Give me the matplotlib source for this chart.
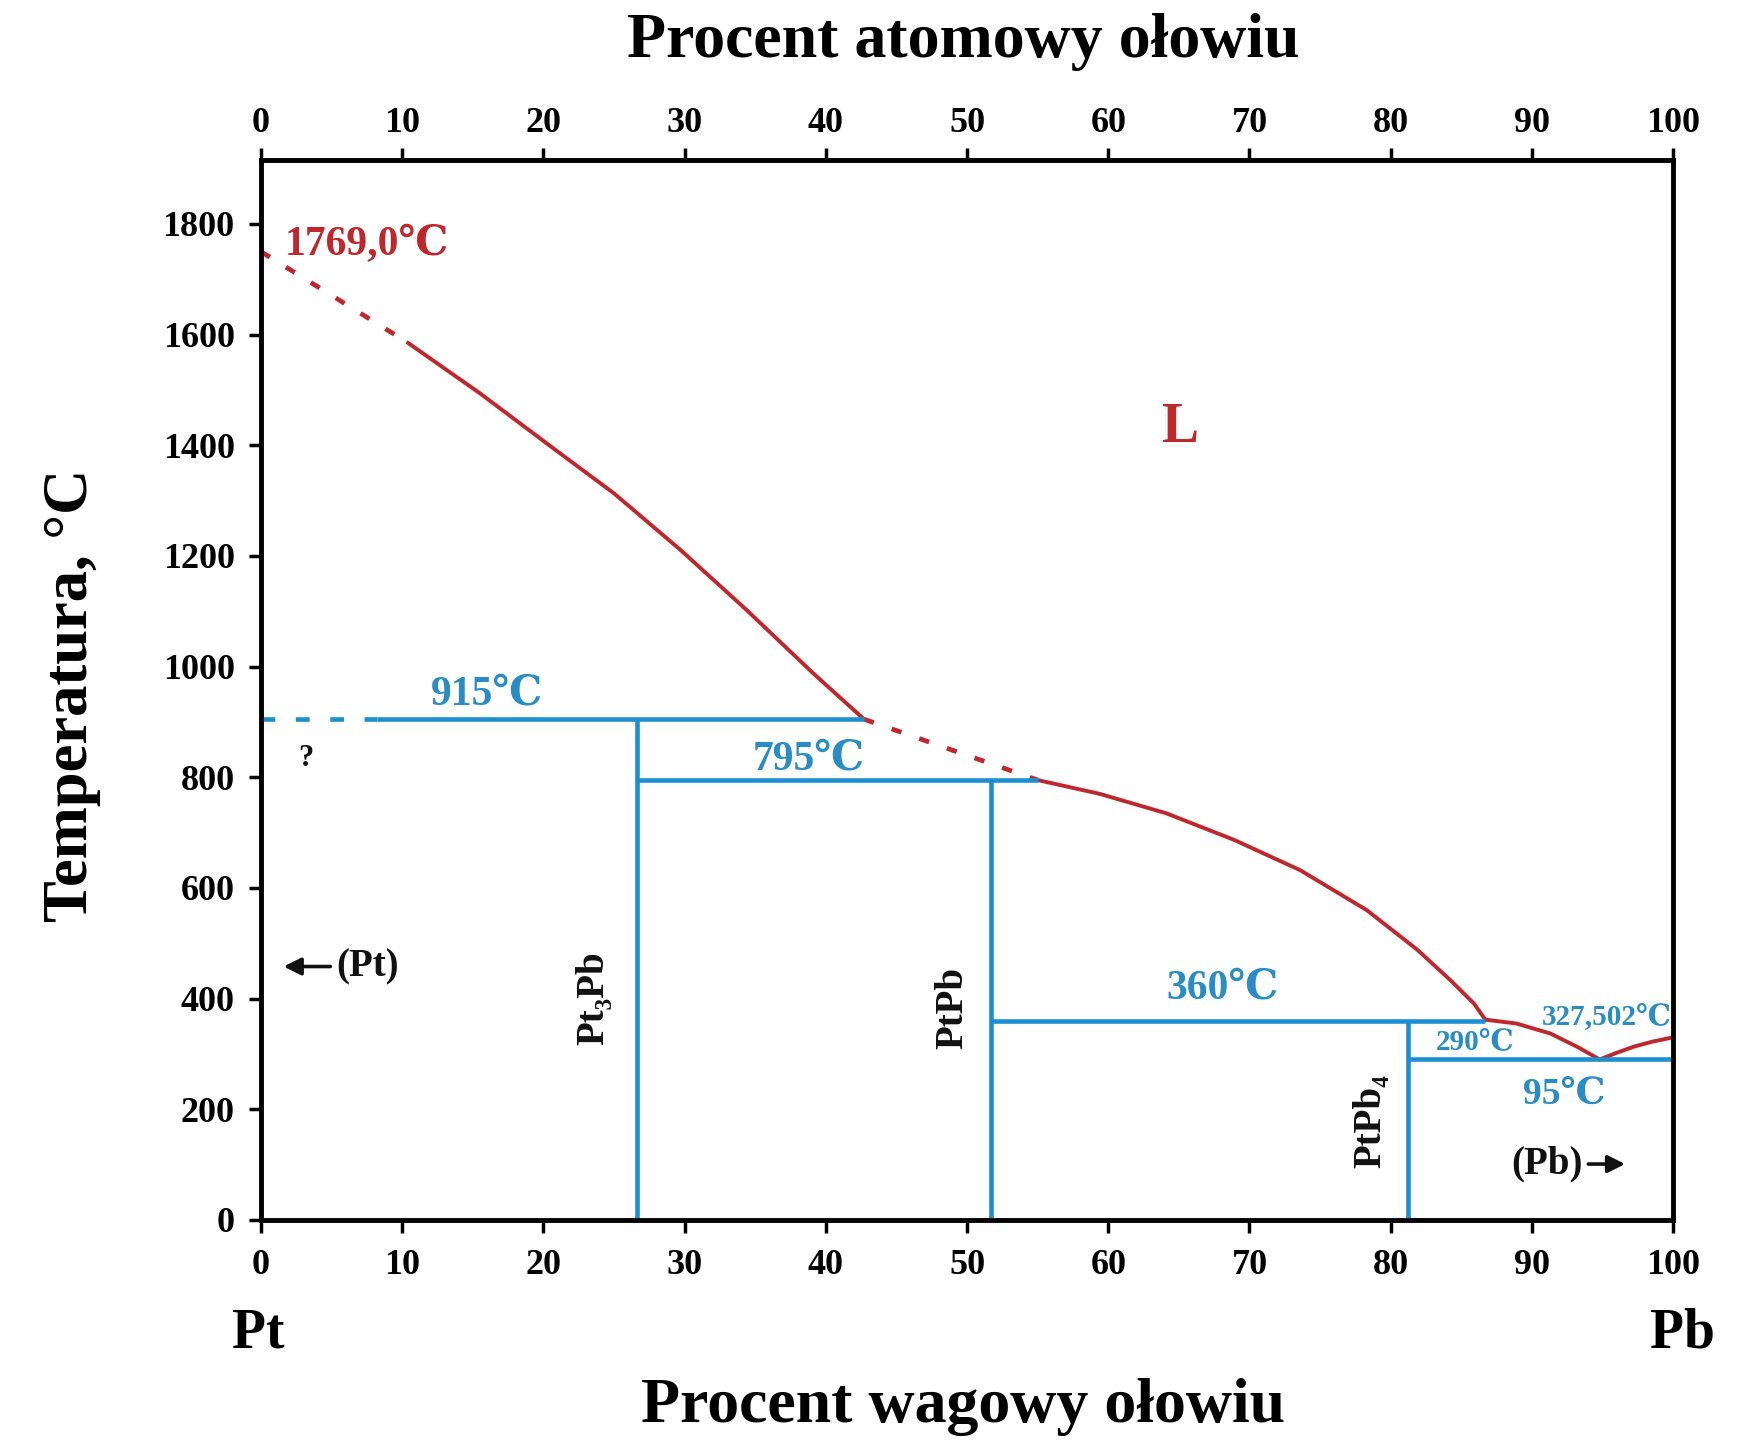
import matplotlib
matplotlib.use("Agg")
import matplotlib.pyplot as plt

# -----------------------------
# Pt-Pb phase diagram data
# -----------------------------

# liquidus, Pt side (dotted part, then solid)
liq_pt_dot_x = [0.0, 10.3]
liq_pt_dot_y = [1750, 1587]
liq_pt_x = [10.3, 15.5, 20.2, 25.0, 29.7, 34.4, 39.1, 42.7]
liq_pt_y = [1587, 1494, 1404, 1313, 1211, 1102, 988, 905]

# liquidus between 915 and 795 plateaus (dotted)
liq_mid_dot_x = [42.7, 55.0]
liq_mid_dot_y = [905, 795]

# liquidus, PtPb side
liq_ptpb_x = [55.0, 59.4, 64.1, 68.9, 73.6, 78.3, 81.9, 84.2, 85.9, 86.7]
liq_ptpb_y = [795, 770, 735, 687, 632, 560, 488, 434, 391, 362]

# liquidus down to the 290 plateau
liq_ptpb4_x = [86.7, 88.9, 91.3, 93.2, 94.8]
liq_ptpb4_y = [362, 355, 337, 313, 290]

# Pb side
liq_pb_x = [94.8, 96.0, 97.2, 98.5, 100.0]
liq_pb_y = [290, 302, 313, 322, 330]

# invariant lines
plateau_x0 = [8.2, 26.6, 51.7, 81.2]
plateau_x1 = [42.7, 55.0, 86.7, 100.0]
plateau_t = [905, 795, 360, 290]

# compounds
compound_x = [26.6, 51.7, 81.2]
compound_top = [905, 795, 360]
compound_names = ["Pt\u2083Pb", "PtPb", "PtPb\u2084"]
compound_label_y = [401, 383, 178]
compound_label_dx = [-3.0, -2.7, -2.6]

ticks_pct = [0, 10, 20, 30, 40, 50, 60, 70, 80, 90, 100]
ticks_temp = [0, 200, 400, 600, 800, 1000, 1200, 1400, 1600, 1800]

RED = "#c0272d"
BLUE = "#1b8fd0"
BLUE_TXT = "#2a8cc4"

plt.rcParams["font.family"] = ["Liberation Serif", "DejaVu Serif"]
plt.rcParams["font.weight"] = "bold"

fig = plt.figure(figsize=(17.58, 14.42), dpi=100)
ax = fig.add_axes([0.1485, 0.1540, 0.8032, 0.7348])

# -----------------------------
# Liquidus (red)
# -----------------------------
ax.plot(liq_pt_dot_x, liq_pt_dot_y, color=RED, lw=3.4, dashes=(2.2, 4))
ax.plot(liq_pt_x, liq_pt_y, color=RED, lw=2.8, solid_capstyle="butt")
ax.plot(liq_mid_dot_x, liq_mid_dot_y, color=RED, lw=3.4, dashes=(2.2, 4))
ax.plot(liq_ptpb_x, liq_ptpb_y, color=RED, lw=2.8)
ax.plot(liq_ptpb4_x, liq_ptpb4_y, color=RED, lw=2.8)
ax.plot(liq_pb_x, liq_pb_y, color=RED, lw=2.8)

# -----------------------------
# Plateaus and compounds (blue)
# -----------------------------
ax.plot([0, plateau_x0[0]], [plateau_t[0], plateau_t[0]], color=BLUE, lw=3.3, dashes=(3, 4.5))
for x0, x1, t in zip(plateau_x0, plateau_x1, plateau_t):
    ax.plot([x0, x1], [t, t], color=BLUE, lw=3.3, solid_capstyle="butt")
for cx, top in zip(compound_x, compound_top):
    ax.plot([cx, cx], [0, top], color=BLUE, lw=3.3, solid_capstyle="butt")

for cx, name, ly, dx in zip(compound_x, compound_names, compound_label_y, compound_label_dx):
    ax.text(cx + dx, ly, name, rotation=90, ha="center", va="center", fontsize=28,
            color="#111111")

# -----------------------------
# Labels inside the plot
# -----------------------------
ax.text(1.7, 1762, "1769,0\u2103", color=RED, fontsize=30, ha="left", va="center")
ax.text(65.1, 1431, "L", color=RED, fontsize=40, ha="center", va="center")
ax.text(16.0, 950, "915\u2103", color=BLUE_TXT, fontsize=30, ha="center", va="center")
ax.text(38.8, 833, "795\u2103", color=BLUE_TXT, fontsize=30, ha="center", va="center")
ax.text(68.1, 418, "360\u2103", color=BLUE_TXT, fontsize=30, ha="center", va="center")
ax.text(86.0, 322, "290\u2103", color=BLUE_TXT, fontsize=21, ha="center", va="center")
ax.text(99.9, 367, "327,502\u2103", color=BLUE_TXT, fontsize=21, ha="right", va="center")
ax.text(92.3, 227, "95\u2103", color=BLUE_TXT, fontsize=27, ha="center", va="center")
ax.text(3.2, 834, "?", color="#111111", fontsize=22, ha="center", va="center")

# phase arrows
ax.text(5.3, 458, "(Pt)", color="#111111", fontsize=28, ha="left", va="center")
ax.annotate("", xy=(1.4, 458), xytext=(5.1, 458),
            arrowprops=dict(arrowstyle="-|>", color="#111111", lw=2.6, mutation_scale=26))
ax.text(93.6, 101, "(Pb)", color="#111111", fontsize=28, ha="right", va="center")
ax.annotate("", xy=(96.8, 101), xytext=(93.8, 101),
            arrowprops=dict(arrowstyle="-|>", color="#111111", lw=2.6, mutation_scale=26))

# -----------------------------
# Axes styling
# -----------------------------
ax.set_xlim(0, 100)
ax.set_ylim(0, 1915)
ax.set_xticks(ticks_pct)
ax.set_yticks(ticks_temp)
for s in ax.spines.values():
    s.set_linewidth(3.5)
ax.tick_params(axis="both", direction="out", length=9, width=2.5, labelsize=26, pad=10)
ax.tick_params(axis="x", pad=12)
ax.tick_params(right=False)

top = ax.twiny()
top.set_xlim(0, 100)
top.set_xticks(ticks_pct)
top.tick_params(axis="x", direction="out", length=9, width=2.5, labelsize=26, pad=6)
for s in top.spines.values():
    s.set_visible(False)

fig.text(0.041, 0.518, "Temperatura, \u00b0C", rotation=90, ha="center", va="center",
         fontsize=45)
fig.text(0.548, 0.971, "Procent atomowy ołowiu", ha="center", va="center", fontsize=46)
fig.text(0.548, 0.0245, "Procent wagowy ołowiu", ha="center", va="center", fontsize=46)
fig.text(0.147, 0.075, "Pt", ha="center", va="center", fontsize=40)
fig.text(0.957, 0.075, "Pb", ha="center", va="center", fontsize=40)

fig.savefig("out.png", dpi=100, facecolor="white")
